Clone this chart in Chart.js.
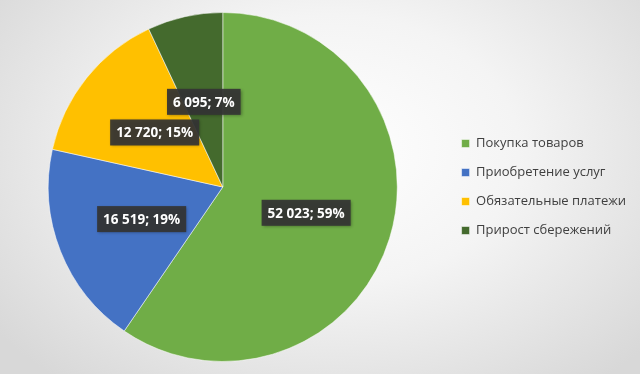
<!DOCTYPE html>
<html>
<head>
<meta charset="utf-8">
<script src="https://cdn.jsdelivr.net/npm/chart.js@4/dist/chart.umd.min.js"></script>
<style>
html, body { margin: 0; padding: 0; }
body {
    width: 640px;
    height: 374px;
    background: radial-gradient(ellipse 420px 300px at 330px 150px, #ffffff 0%, #f4f4f4 45%, #d8d8d8 100%);
}
#wrap { position: relative; width: 640px; height: 374px; }
</style>
</head>
<body>
<div id="wrap"><canvas id="chart" width="640" height="374"></canvas></div>
<script>
var categories = ["Покупка товаров", "Приобретение услуг", "Обязательные платежи", "Прирост сбережений"];
var values = [52023, 16519, 12720, 6095];
var percentLabels = ["59%", "19%", "15%", "7%"];
var colors = ["#70ad47", "#4472c4", "#ffc000", "#446a2d"];

function formatValue(v) {
    return String(v).replace(/\B(?=(\d{3})+(?!\d))/g, " ");
}

// dark label boxes drawn at the middle of each slice
var sliceLabels = {
    id: "sliceLabels",
    afterDatasetsDraw: function (chart) {
        var ctx = chart.ctx;
        var meta = chart.getDatasetMeta(0);
        ctx.save();
        ctx.font = "bold 13.5px 'Open Sans'";
        ctx.textAlign = "center";
        ctx.textBaseline = "middle";
        meta.data.forEach(function (arc, i) {
            var pos = arc.tooltipPosition();
            var text = formatValue(values[i]) + "; " + percentLabels[i];
            var w = ctx.measureText(text).width + 12;
            var h = 26;
            ctx.shadowColor = "rgba(0,0,0,0.35)";
            ctx.shadowBlur = 3;
            ctx.shadowOffsetX = 1;
            ctx.shadowOffsetY = 1;
            ctx.fillStyle = "rgba(52,52,52,0.92)";
            ctx.fillRect(pos.x - w / 2, pos.y - h / 2, w, h);
            ctx.shadowColor = "transparent";
            ctx.fillStyle = "#ffffff";
            ctx.fillText(text, pos.x, pos.y + 1);
        });
        ctx.restore();
    }
};

var chart = new Chart(document.getElementById("chart"), {
    type: "pie",
    data: {
        labels: categories,
        datasets: [{
            data: values,
            backgroundColor: colors,
            borderColor: "rgba(255,255,255,0.5)",
            borderWidth: 1
        }]
    },
    options: {
        responsive: false,
        animation: false,
        layout: {
            padding: { top: 12, bottom: 12, left: 0, right: 4 }
        },
        plugins: {
            legend: {
                position: "right",
                labels: {
                    boxWidth: 8,
                    boxHeight: 8,
                    padding: 16,
                    color: "#404040",
                    font: { family: "'Open Sans'", size: 13 }
                }
            },
            tooltip: { enabled: false }
        }
    },
    plugins: [sliceLabels]
});
</script>
</body>
</html>
